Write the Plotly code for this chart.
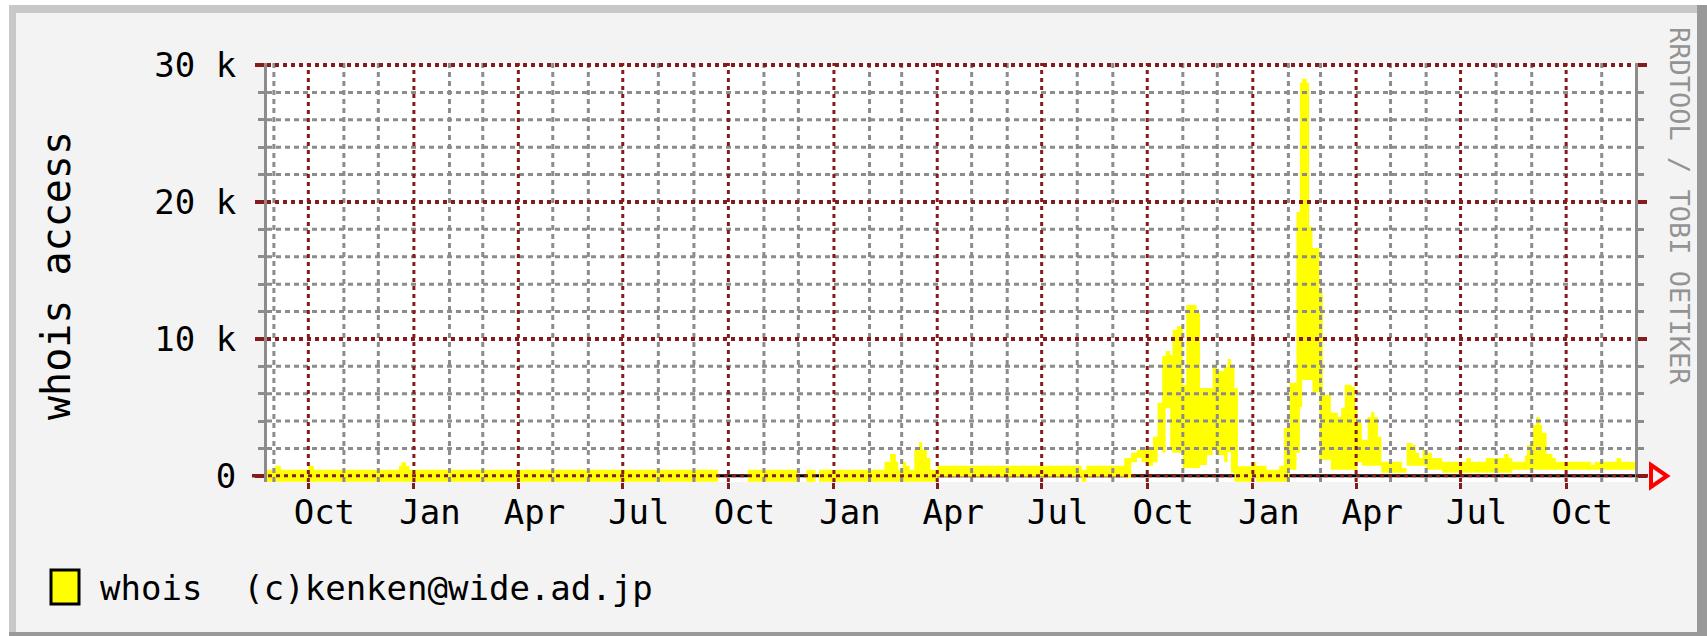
import pandas as pd
import plotly.graph_objects as go

# ---------------- data ----------------
X_START, X_END = "1999-08-26", "2002-11-30"

# interval start dates; None marks a gap in the recorded data
DATES = [
    "1999-08-26", "1999-09-02", "1999-09-07", "1999-10-01", "1999-10-06",
    "1999-12-19", "1999-12-21", "1999-12-25", "1999-12-28", "2000-09-22",
    None,
    "2000-10-18", "2000-11-30",
    None,
    "2000-12-08", "2000-12-16",
    None,
    "2000-12-19", "2001-02-14", "2001-02-19", "2001-02-24", "2001-02-26",
    "2001-03-02", "2001-03-05", "2001-03-08", "2001-03-12", "2001-03-16",
    "2001-03-19", "2001-03-23", "2001-03-26", "2001-04-01", "2001-08-05",
    "2001-08-09", "2001-09-11", "2001-09-17", "2001-09-22", "2001-09-26",
    "2001-10-01", "2001-10-06", "2001-10-10", "2001-10-14", "2001-10-17",
    "2001-10-21", "2001-10-23", "2001-10-27", "2001-11-01", "2001-11-04",
    "2001-11-13", "2001-11-16", "2001-11-22", "2001-11-27", "2001-12-01",
    "2001-12-07", "2001-12-10", "2001-12-13", "2001-12-16", "2001-12-19",
    "2001-12-31", "2002-01-04", "2002-01-13", "2002-01-24", "2002-01-28",
    "2002-02-02", "2002-02-08", "2002-02-11", "2002-02-13", "2002-02-17",
    "2002-02-19", "2002-02-22", "2002-02-28", "2002-03-03", "2002-03-10",
    "2002-03-16", "2002-03-19", "2002-03-22", "2002-03-28", "2002-03-31",
    "2002-04-02", "2002-04-06", "2002-04-11", "2002-04-14", "2002-04-17",
    "2002-04-20", "2002-04-23", "2002-05-11", "2002-05-15", "2002-05-20",
    "2002-05-23", "2002-05-26", "2002-05-29", "2002-06-01", "2002-06-06",
    "2002-06-15", "2002-07-06", "2002-07-10", "2002-07-23", "2002-08-08",
    "2002-08-12", "2002-08-15", "2002-08-26", "2002-08-28", "2002-09-02",
    "2002-09-05", "2002-09-08", "2002-09-10", "2002-09-14", "2002-09-19",
    "2002-09-22", "2002-10-23", "2002-10-26", "2002-11-14", "2002-11-18",
    "2002-11-30",
]
# upper envelope of the whois access trace
HI = [
    440, 730, 440, 730, 440,
    730, 1000, 730, 440, 440,
    None,
    440, 440,
    None,
    440, 440,
    None,
    440, 1020, 1600, 1020, 440,
    1020, 730, 440, 1900, 2450,
    1900, 1300, 440, 730, 440,
    730, 1300, 1680, 1900, 1900,
    2120, 2850, 5330, 8760, 9120,
    8830, 10660, 10950, 6640, 12480,
    11900, 6420, 6420, 7960, 7670,
    7960, 8540, 7960, 6420, 700,
    1000, 730, 440, 730, 3500,
    6790, 19270, 28700, 29000, 28700,
    18200, 16640, 13370, 5900, 4600,
    4300, 4960, 6650, 6500, 4960,
    3870, 2630, 4300, 4670, 4300,
    2850, 1020, 580, 2400, 2260,
    1680, 1310, 1900, 1680, 1310,
    1020, 1310, 1020, 1310, 1600,
    1310, 1020, 1450, 2260, 3720,
    4300, 3720, 3140, 1600, 1310,
    1020, 800, 1020, 1310, 1020,
    1020,
]
# lower envelope of the whois access trace
LO = [
    -440, -440, -440, -440, -440,
    -440, -440, -440, -440, -440,
    None,
    -440, -440,
    None,
    -440, -440,
    None,
    -440, -440, -440, -440, -440,
    -440, -440, -440, -440, -440,
    -440, -440, -440, -70, -440,
    -70, -150, 1000, 1300, 1000,
    730, 1000, 1900, 1680, 4960,
    1900, 1680, 1680, 580, 580,
    580, 800, 1500, 1900, 1500,
    1000, 1750, 220, -440, -440,
    -70, -440, -440, -440, -440,
    440, 1680, 5000, 7000, 7000,
    7000, 6100, 1200, 1170, 440,
    440, 440, 440, 440, 220,
    1000, 730, 730, 730, 730,
    730, 220, 220, 730, 730,
    730, 730, 730, 440, 440,
    220, 220, 220, 220, 220,
    220, 440, 440, 440, 440,
    440, 440, 440, 440, 440,
    440, 440, 440, 440, 440,
    440,
]

Y_TICKS = [0, 10000, 20000, 30000]
Y_TICK_TEXT = ["0", "10 k", "20 k", "30 k"]
Y_MINOR_STEP = 2000
LABEL_DATES = ["1999-10-15", "2000-01-15", "2000-04-15", "2000-07-15",
               "2000-10-15", "2001-01-15", "2001-04-15", "2001-07-15",
               "2001-10-15", "2002-01-15", "2002-04-15", "2002-07-15",
               "2002-10-15"]
LABEL_TEXT = ["Oct", "Jan", "Apr", "Jul", "Oct", "Jan", "Apr", "Jul",
              "Oct", "Jan", "Apr", "Jul", "Oct"]

# ---------------- style / layout ----------------
W, H = 1707, 636
L, R, T, B = 267, 72, 63, 154
Y_MIN, Y_MAX = -450, 30150
FONT = "DejaVu Sans Mono"
YELLOW = "#ffff00"
RED = "#841c1c"
GRAY = "#8c8c8c"
BG = "#f3f3f3"


def px_x(px):
    return (px - L) / (W - L - R)


def py_y(py):
    return (H - B - py) / (H - T - B)


fig = go.Figure()

# yellow envelope, one filled band per contiguous segment
segments, cur = [], []
for d, h, l in zip(DATES, HI, LO):
    if d is None:
        if cur:
            segments.append(cur)
        cur = []
    else:
        cur.append((d, h, l))
if cur:
    segments.append(cur)

for seg in segments:
    ds = [s[0] for s in seg]
    fig.add_trace(go.Scatter(x=ds, y=[s[2] for s in seg], mode="lines",
                             line=dict(width=0, shape="hv", color=YELLOW),
                             hoverinfo="skip", showlegend=False))
    fig.add_trace(go.Scatter(x=ds, y=[s[1] for s in seg], mode="lines",
                             fill="tonexty", fillcolor=YELLOW,
                             line=dict(width=0, shape="hv", color=YELLOW),
                             hoverinfo="skip", showlegend=False))

# grid drawn on top of the data (as rrdtool does)
months = pd.date_range("1999-09-01", X_END, freq="MS")
quarters = [m for m in months if m.month in (1, 4, 7, 10)]
minor_months = [m for m in months if m.month not in (1, 4, 7, 10)]
minor_y = [v for v in range(Y_MINOR_STEP, 30001, Y_MINOR_STEP) if v % 10000]
major_y = [v for v in Y_TICKS if v > 0]


def vlines(ds):
    xs, ys = [], []
    for d in ds:
        xs += [d, d, None]
        ys += [Y_MIN, Y_MAX, None]
    return xs, ys


def hlines(vals):
    xs, ys = [], []
    for v in vals:
        xs += [X_START, X_END, None]
        ys += [v, v, None]
    return xs, ys


for (xs, ys), col, dash, wd in [
    (vlines(minor_months), GRAY, "5px,4px", 3),
    (hlines(minor_y), GRAY, "5px,4px", 3),
    (vlines(quarters), RED, "4px,4px", 3),
    (hlines(major_y), RED, "4px,4px", 4),
]:
    fig.add_trace(go.Scatter(x=xs, y=ys, mode="lines", xaxis="x2",
                             line=dict(color=col, width=wd, dash=dash),
                             hoverinfo="skip", showlegend=False))

fig.update_layout(
    width=W, height=H,
    margin=dict(l=L, r=R, t=T, b=B, pad=0),
    paper_bgcolor=BG, plot_bgcolor="white",
    showlegend=False,
    font=dict(family=FONT, size=34, color="black"),
    xaxis=dict(type="date", range=[X_START, X_END], showgrid=False,
               zeroline=False, showline=False,
               tickmode="array", tickvals=quarters, showticklabels=False,
               ticks="outside", ticklen=6, tickwidth=3, tickcolor=RED),
    xaxis2=dict(type="date", range=[X_START, X_END], overlaying="x",
                anchor="y", side="bottom", showgrid=False, zeroline=False,
                showline=False, ticks="", tickmode="array",
                tickvals=LABEL_DATES, ticktext=LABEL_TEXT,
                tickfont=dict(family=FONT, size=34, color="black"),
                ticklabelstandoff=7),
    yaxis=dict(range=[Y_MIN, Y_MAX], showgrid=False, zeroline=False,
               showline=True, linecolor=GRAY, linewidth=3, mirror="ticks",
               tickmode="array", tickvals=Y_TICKS, ticktext=Y_TICK_TEXT,
               ticks="outside", ticklen=9, tickwidth=4, tickcolor=RED,
               tickfont=dict(family=FONT, size=34, color="black"),
               ticklabelstandoff=12,
               minor=dict(tickmode="array", tickvals=minor_y, ticks="outside",
                          ticklen=6, tickwidth=3, tickcolor=GRAY,
                          showgrid=False)),
)

shapes = []
# frame of the image
shapes += [
    dict(type="rect", xref="paper", yref="paper", layer="below",
         x0=px_x(0), x1=px_x(9), y0=py_y(636), y1=py_y(0),
         fillcolor="white", line=dict(width=0)),
    dict(type="rect", xref="paper", yref="paper", layer="below",
         x0=px_x(0), x1=px_x(1707), y0=py_y(5), y1=py_y(0),
         fillcolor="white", line=dict(width=0)),
    dict(type="rect", xref="paper", yref="paper", layer="below",
         x0=px_x(9), x1=px_x(16), y0=py_y(633), y1=py_y(5),
         fillcolor="#c8c8c8", line=dict(width=0)),
    dict(type="rect", xref="paper", yref="paper", layer="below",
         x0=px_x(9), x1=px_x(1697), y0=py_y(13), y1=py_y(5),
         fillcolor="#c8c8c8", line=dict(width=0)),
    dict(type="rect", xref="paper", yref="paper", layer="below",
         x0=px_x(1697), x1=px_x(1707), y0=py_y(636), y1=py_y(5),
         fillcolor="#999999", line=dict(width=0)),
    dict(type="rect", xref="paper", yref="paper", layer="below",
         x0=px_x(9), x1=px_x(1707), y0=py_y(636), y1=py_y(632),
         fillcolor="#999999", line=dict(width=0)),
]
# zero line: black under the data, red dashes above
shapes += [
    dict(type="line", xref="paper", yref="y", layer="below",
         x0=px_x(252), x1=px_x(1648), y0=0, y1=0,
         line=dict(color="black", width=3)),
    dict(type="line", xref="paper", yref="y", layer="above",
         x0=px_x(252), x1=px_x(1648), y0=0, y1=0,
         line=dict(color=RED, width=3, dash="4px,4px")),
    dict(type="path", xref="paper", yref="paper", layer="above",
         path=(f"M {px_x(1651)},{py_y(465)} L {px_x(1667)},{py_y(476)} "
               f"L {px_x(1651)},{py_y(487)} Z"),
         line=dict(color="#ff0000", width=4)),
]
# legend swatch
shapes.append(dict(type="rect", xref="paper", yref="paper", layer="above",
                   x0=px_x(51), x1=px_x(79), y0=py_y(604), y1=py_y(570),
                   fillcolor=YELLOW, line=dict(color="black", width=3)))
fig.update_layout(shapes=shapes)

fig.add_annotation(xref="paper", yref="paper", x=px_x(98), y=py_y(588),
                   xanchor="left", yanchor="middle", showarrow=False,
                   text="whois\u00a0\u00a0(c)kenken@wide.ad.jp",
                   font=dict(family=FONT, size=34, color="black"))
fig.add_annotation(xref="paper", yref="paper", x=px_x(56), y=py_y(276),
                   xanchor="center", yanchor="middle", showarrow=False,
                   textangle=-90, text="whois access",
                   font=dict(family=FONT, size=40, color="black"))
fig.add_annotation(xref="paper", yref="paper", x=px_x(1680), y=py_y(206),
                   xanchor="center", yanchor="middle", showarrow=False,
                   textangle=90, text="RRDTOOL / TOBI OETIKER",
                   font=dict(family=FONT, size=27, color="#939393"))

fig.write_html(
    "out.html",
    config={"displayModeBar": False},
    post_script="document.body.style.margin='0';"
                "document.body.style.overflow='hidden';",
)
